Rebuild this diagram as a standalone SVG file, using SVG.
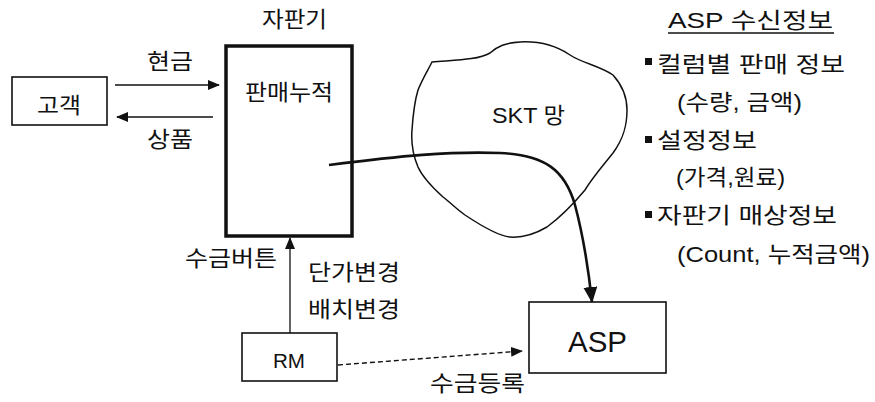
<svg xmlns="http://www.w3.org/2000/svg" width="875" height="402" viewBox="0 0 875 402">
<style>
text{font-family:"Liberation Sans","Noto Sans CJK KR",sans-serif;fill:#111;}
.t{font-size:22px;}
.box{fill:#fff;stroke:#111;stroke-width:1.6;}
.line{fill:none;stroke:#111;stroke-width:1.5;}
</style>
<defs>
<marker id="ah" markerWidth="12" markerHeight="10" refX="11" refY="5" orient="auto" markerUnits="userSpaceOnUse">
<path d="M0,0 L12,5 L0,10 z" fill="#111"/>
</marker>
<marker id="ahb" markerWidth="16" markerHeight="14" refX="15" refY="7" orient="auto" markerUnits="userSpaceOnUse">
<path d="M0,0 L16,7 L0,14 z" fill="#111"/>
</marker>
</defs>
<rect width="875" height="402" fill="#fff"/>

<g id="cloud">
<path d="M432,62 C455,60 478,60 490,53 C498,46 505,43 520,42 C540,41 555,45 570,55 C582,63 600,66 613,75 C622,85 627,98 627,110 C627,125 624,138 613,153 C605,163 592,178 585,190 C575,202 562,216 547,227 C535,234 522,238 510,237 C498,236 480,225 465,215 C455,208 450,202 443,197 C433,188 423,178 418,167 C413,155 411,142 412,130 C413,115 415,100 418,90 C422,80 428,70 432,62 Z" fill="none" stroke="#111" stroke-width="1.5"/>
<text x="492" y="123" font-size="22" textLength="73" lengthAdjust="spacingAndGlyphs">SKT 망</text>
</g>

<g id="customer">
<rect class="box" x="12" y="77" width="95" height="48"/>
<text class="t" x="37" y="113" textLength="44" lengthAdjust="spacingAndGlyphs">고객</text>
</g>

<g id="vending">
<text class="t" x="262" y="27" textLength="65" lengthAdjust="spacingAndGlyphs">자판기</text>
<rect x="226" y="46" width="126" height="190" fill="#fff" stroke="#111" stroke-width="3.5"/>
<text class="t" x="245" y="100" textLength="88" lengthAdjust="spacingAndGlyphs">판매누적</text>
</g>

<g id="rm">
<rect class="box" x="242" y="333" width="95" height="48"/>
<text x="273" y="368" font-size="21" textLength="32" lengthAdjust="spacingAndGlyphs">RM</text>
</g>

<g id="asp">
<rect class="box" x="529" y="302" width="137" height="71"/>
<text x="568" y="352" font-size="30" textLength="59" lengthAdjust="spacingAndGlyphs">ASP</text>
</g>

<g id="info">
<text x="668" y="28" font-size="22" textLength="165" lengthAdjust="spacingAndGlyphs">ASP 수신정보</text>
<line x1="668" y1="33" x2="834" y2="33" stroke="#111" stroke-width="1.5"/>
<rect x="645" y="58" width="7" height="7" fill="#111"/>
<text class="t" x="657" y="72" textLength="188" lengthAdjust="spacingAndGlyphs">컬럼별 판매 정보</text>
<text class="t" x="677" y="110" textLength="125" lengthAdjust="spacingAndGlyphs">(수량, 금액)</text>
<rect x="645" y="136" width="7" height="7" fill="#111"/>
<text class="t" x="657" y="148" textLength="100" lengthAdjust="spacingAndGlyphs">설정정보</text>
<text class="t" x="676" y="185" textLength="109" lengthAdjust="spacingAndGlyphs">(가격,원료)</text>
<rect x="645" y="211" width="7" height="7" fill="#111"/>
<text class="t" x="657" y="223" textLength="180" lengthAdjust="spacingAndGlyphs">자판기 매상정보</text>
<text class="t" x="677" y="262" textLength="193" lengthAdjust="spacingAndGlyphs">(Count, 누적금액)</text>
</g>

<g id="connectors">
<line class="line" x1="115" y1="85" x2="219" y2="85" marker-end="url(#ah)"/>
<text class="t" x="147" y="69" textLength="46" lengthAdjust="spacingAndGlyphs">현금</text>
<line class="line" x1="213" y1="117" x2="117" y2="117" marker-end="url(#ah)"/>
<text class="t" x="147" y="147" textLength="46" lengthAdjust="spacingAndGlyphs">상품</text>
<path d="M329,165 C400,156 450,151 500,153 C545,155 565,170 575,205 C583,235 588,265 592,302" fill="none" stroke="#111" stroke-width="2.6" marker-end="url(#ahb)"/>
<line x1="290" y1="333" x2="290" y2="238" stroke="#111" stroke-width="1.3" marker-end="url(#ah)"/>
<text class="t" x="185" y="266" textLength="92" lengthAdjust="spacingAndGlyphs">수금버튼</text>
<text class="t" x="308" y="280" textLength="92" lengthAdjust="spacingAndGlyphs">단가변경</text>
<text class="t" x="308" y="317" textLength="92" lengthAdjust="spacingAndGlyphs">배치변경</text>
<line x1="338" y1="365" x2="522" y2="351" stroke="#111" stroke-width="1.4" stroke-dasharray="5,3" marker-end="url(#ah)"/>
<text class="t" x="430" y="391" textLength="95" lengthAdjust="spacingAndGlyphs">수금등록</text>
</g>
</svg>
